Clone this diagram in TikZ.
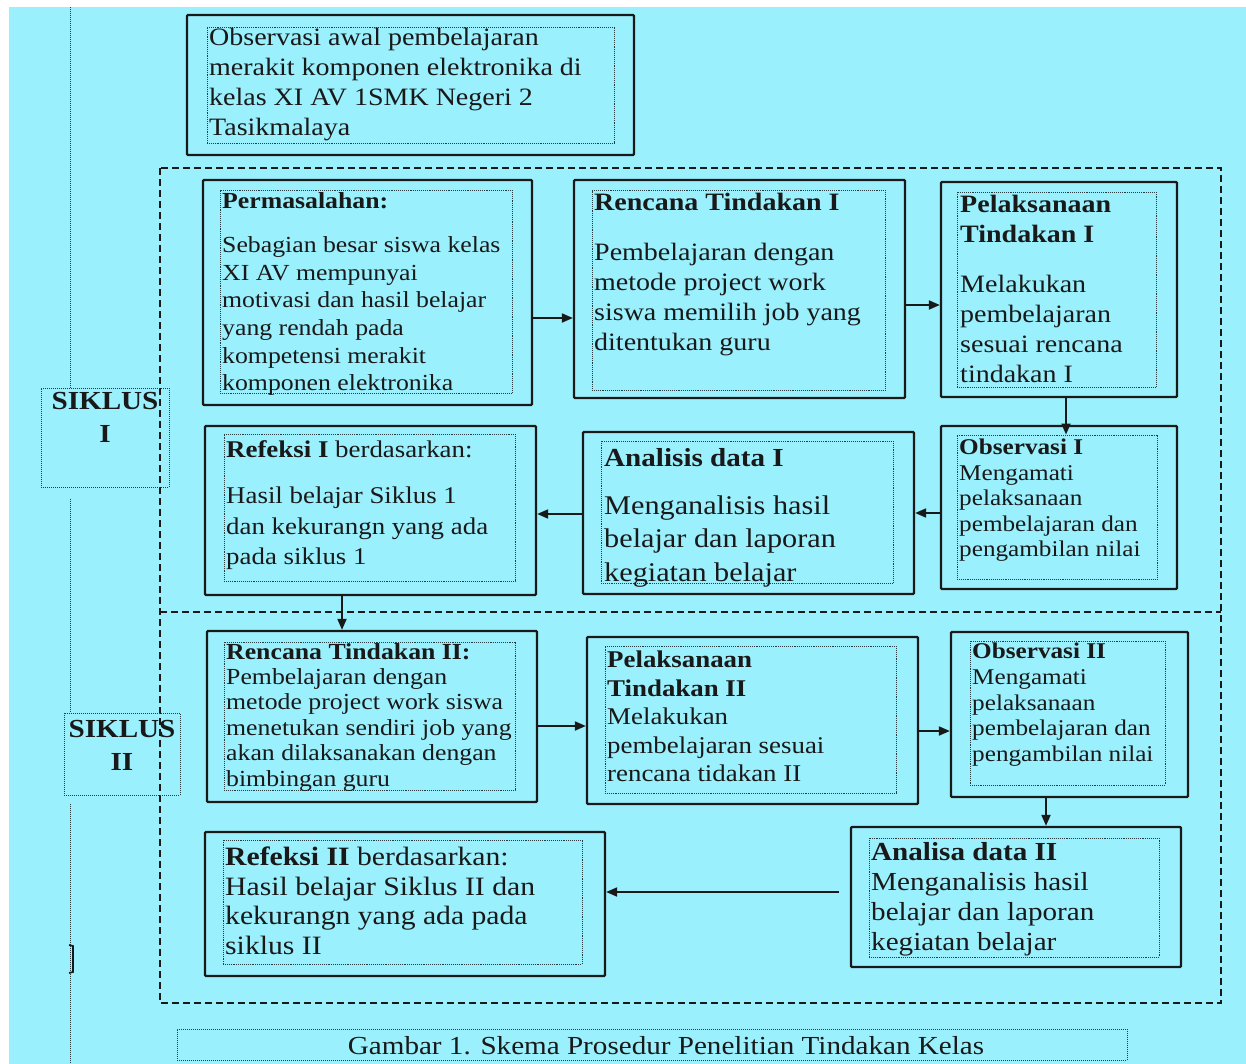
\documentclass[tikz,border=0pt]{standalone}
\usepackage{fontspec}
\setmainfont[FakeStretch=1.12]{Liberation Serif}
\usetikzlibrary{fit,arrows.meta}
\definecolor{bgcyan}{RGB}{155,240,253}
\definecolor{ink}{RGB}{25,25,25}
\definecolor{dotink}{RGB}{40,60,65}
\begin{document}
\begin{tikzpicture}[x=1pt,y=-1pt,
 obox/.style={draw=ink, line width=2.3pt, inner sep=0pt, rounded corners=1pt},
 ibox/.style={draw=dotink, line width=0.9pt, densely dotted, inner sep=0pt},
 sbox/.style={draw=dotink, line width=1pt, densely dotted, inner sep=0pt},
 txt/.style={anchor=north west, inner sep=0pt, align=left, text=ink},
 siktxt/.style={anchor=north, inner sep=0pt, align=center, text=ink, font=\fontsize{26}{33}\selectfont\bfseries},
 arr/.style={draw=ink, line width=1.9pt, -{Triangle[length=11pt,width=9pt]}},
 bigdash/.style={draw=ink, line width=1.8pt, dash pattern=on 7pt off 4pt},
 vline/.style={draw=dotink, line width=1pt, densely dotted},
]
\useasboundingbox (0,0) rectangle (1246,1064);
\fill[bgcyan] (9,7) rectangle (1246,1064);

% big dashed frame and divider
\draw[bigdash] (160,168) rectangle (1221,1003);
\draw[bigdash] (160,612) -- (1221,612);

% top box
\node[obox, fit={(187,15) (634,155)}] (top) {};
\node[ibox, fit={(207,27) (614,143)}] (topi) {};
\node[txt, font=\fontsize{25}{30}\selectfont] (topt) at (209,28)
 {Observasi awal pembelajaran\\ merakit komponen elektronika di\\ kelas XI AV 1SMK Negeri 2\\ Tasikmalaya};

% Permasalahan
\node[obox, fit={(203,180) (532,405)}] (perm) {};
\node[ibox, fit={(220,190) (512,393)}] (permi) {};
\node[txt, font=\fontsize{23}{27.6}\selectfont] (permt) at (222,192)
 {\textbf{Permasalahan:}\\[17pt] Sebagian besar siswa kelas\\ XI AV mempunyai\\ motivasi dan hasil belajar\\ yang rendah pada\\ kompetensi merakit\\ komponen elektronika};

% Rencana Tindakan I
\node[obox, fit={(574,180) (905,398)}] (renI) {};
\node[ibox, fit={(592,190) (885,390)}] (renIi) {};
\node[txt, font=\fontsize{25}{30}\selectfont] (renIt) at (594,193)
 {\textbf{Rencana Tindakan I}\\[20pt] Pembelajaran dengan\\ metode project work\\ siswa memilih job yang\\ ditentukan guru};

% Pelaksanaan Tindakan I
\node[obox, fit={(941,182) (1177,397)}] (pelI) {};
\node[ibox, fit={(957,192) (1156,387)}] (pelIi) {};
\node[txt, font=\fontsize{25}{30}\selectfont] (pelIt) at (960,195)
 {\textbf{Pelaksanaan}\\ \textbf{Tindakan I}\\[20pt] Melakukan\\ pembelajaran\\ sesuai rencana\\ tindakan I};

% Observasi I
\node[obox, fit={(941,426) (1177,589)}] (obsI) {};
\node[ibox, fit={(957,435) (1157,579)}] (obsIi) {};
\node[txt, font=\fontsize{22.5}{25.5}\selectfont] (obsIt) at (959,439)
 {\textbf{Observasi I}\\ Mengamati\\ pelaksanaan\\ pembelajaran dan\\ pengambilan nilai};

% Analisis data I
\node[obox, fit={(583,432) (914,594)}] (anaI) {};
\node[ibox, fit={(601,441) (893,583)}] (anaIi) {};
\node[txt, font=\fontsize{27}{33.5}\selectfont] (anaIt) at (604,448)
 {{\fontsize{26}{30}\selectfont\bfseries Analisis data I}\\[14.5pt] Menganalisis hasil\\ belajar dan laporan\\ kegiatan belajar};

% Refeksi I
\node[obox, fit={(205,426) (536,595)}] (refI) {};
\node[ibox, fit={(224,434) (515,581)}] (refIi) {};
\node[txt, font=\fontsize{24}{30.5}\selectfont] (refIt) at (226,440)
 {\textbf{Refeksi I} berdasarkan:\\[16pt] Hasil belajar Siklus 1\\ dan kekurangn yang ada\\ pada siklus 1};

% Rencana Tindakan II
\node[obox, fit={(207,631) (537,802)}] (renII) {};
\node[ibox, fit={(224,642) (515,790)}] (renIIi) {};
\node[txt, font=\fontsize{23}{25.4}\selectfont] (renIIt) at (226,643)
 {\textbf{Rencana Tindakan II:}\\ Pembelajaran dengan\\ metode project work siswa\\ menetukan sendiri job yang\\ akan dilaksanakan dengan\\ bimbingan guru};

% Pelaksanaan Tindakan II
\node[obox, fit={(587,637) (918,804)}] (pelII) {};
\node[ibox, fit={(605,646) (896,793)}] (pelIIi) {};
\node[txt, font=\fontsize{24}{28.5}\selectfont] (pelIIt) at (607,651)
 {\textbf{Pelaksanaan}\\ \textbf{Tindakan II}\\ Melakukan\\ pembelajaran sesuai\\ rencana tidakan II};

% Observasi II
\node[obox, fit={(951,632) (1188,797)}] (obsII) {};
\node[ibox, fit={(970,641) (1165,785)}] (obsIIi) {};
\node[txt, font=\fontsize{22.5}{25.7}\selectfont] (obsIIt) at (972,643)
 {\textbf{Observasi II}\\ Mengamati\\ pelaksanaan\\ pembelajaran dan\\ pengambilan nilai};

% Analisa data II
\node[obox, fit={(851,827) (1181,967)}] (anaII) {};
\node[ibox, fit={(869,838) (1159,957)}] (anaIIi) {};
\node[txt, font=\fontsize{26}{30}\selectfont] (anaIIt) at (871,842)
 {\textbf{Analisa data II}\\ Menganalisis hasil\\ belajar dan laporan\\ kegiatan belajar};

% Refeksi II
\node[obox, fit={(205,832) (605,976)}] (refII) {};
\node[ibox, fit={(223,840) (582,964)}] (refIIi) {};
\node[txt, font=\fontsize{26.5}{29.5}\selectfont] (refIIt) at (225,847)
 {\textbf{Refeksi II} berdasarkan:\\ Hasil belajar Siklus II dan\\ kekurangn yang ada pada\\ siklus II};

% SIKLUS labels
\node[sbox, fit={(41,388) (169,487)}] (s1) {};
\node[siktxt] (s1t) at (105,392) {SIKLUS\\ I};
\node[sbox, fit={(64,713) (180,795)}] (s2) {};
\node[siktxt] (s2t) at (122,720) {SIKLUS\\ II};

% left vertical line
\coordinate (ltop) at (70,7);
\coordinate (lbot) at (70,1064);
\draw[vline] (ltop) -- (ltop |- s1.north);
\draw[vline] ([yshift=-11pt]ltop |- s1.south) -- (ltop |- s2.north);
\draw[vline] ([yshift=-8pt]ltop |- s2.south) -- (lbot);
\draw[ink, line width=1.6pt] (69,945) -- (73,946) -- (73,972) -- (69,973);

% caption
\node[sbox, fit={(177,1029) (1127,1060)}] (cap) {};
\node[anchor=base, inner sep=0pt, text=ink, font=\fontsize{26}{30}\selectfont] (capt) at (666,1054) {Gambar 1. Skema Prosedur Penelitian Tindakan Kelas};

% connectors
\coordinate (a1) at ([yshift=-25.5pt]perm.east);
\draw[arr] (a1) -- (a1 -| renI.west);
\coordinate (a2) at ([yshift=-16pt]renI.east);
\draw[arr] (a2) -- (a2 -| pelI.west);
\coordinate (a3) at ([xshift=7pt]pelI.south);
\draw[arr] (a3) -- (a3 |- obsIi.north);
\coordinate (a4) at ([yshift=-5.5pt]obsI.west);
\draw[arr] (a4) -- (a4 -| anaI.east);
\coordinate (a5) at ([yshift=-1pt]anaI.west);
\draw[arr] (a5) -- (a5 -| refI.east);
\coordinate (a6) at ([xshift=-28.5pt]refI.south);
\draw[arr] (a6) -- (a6 |- renII.north);
\coordinate (a7) at ([yshift=-9.5pt]renII.east);
\draw[arr] (a7) -- (a7 -| pelII.west);
\coordinate (a8) at ([yshift=-10.5pt]pelII.east);
\draw[arr] (a8) -- (a8 -| obsII.west);
\coordinate (a9) at ([xshift=-23.5pt]obsII.south);
\draw[arr] (a9) -- (a9 |- anaII.north);
\coordinate (a10) at ([xshift=-11pt,yshift=5pt]anaII.west);
\draw[arr] (a10) -- (a10 -| refII.east);
\end{tikzpicture}
\end{document}
